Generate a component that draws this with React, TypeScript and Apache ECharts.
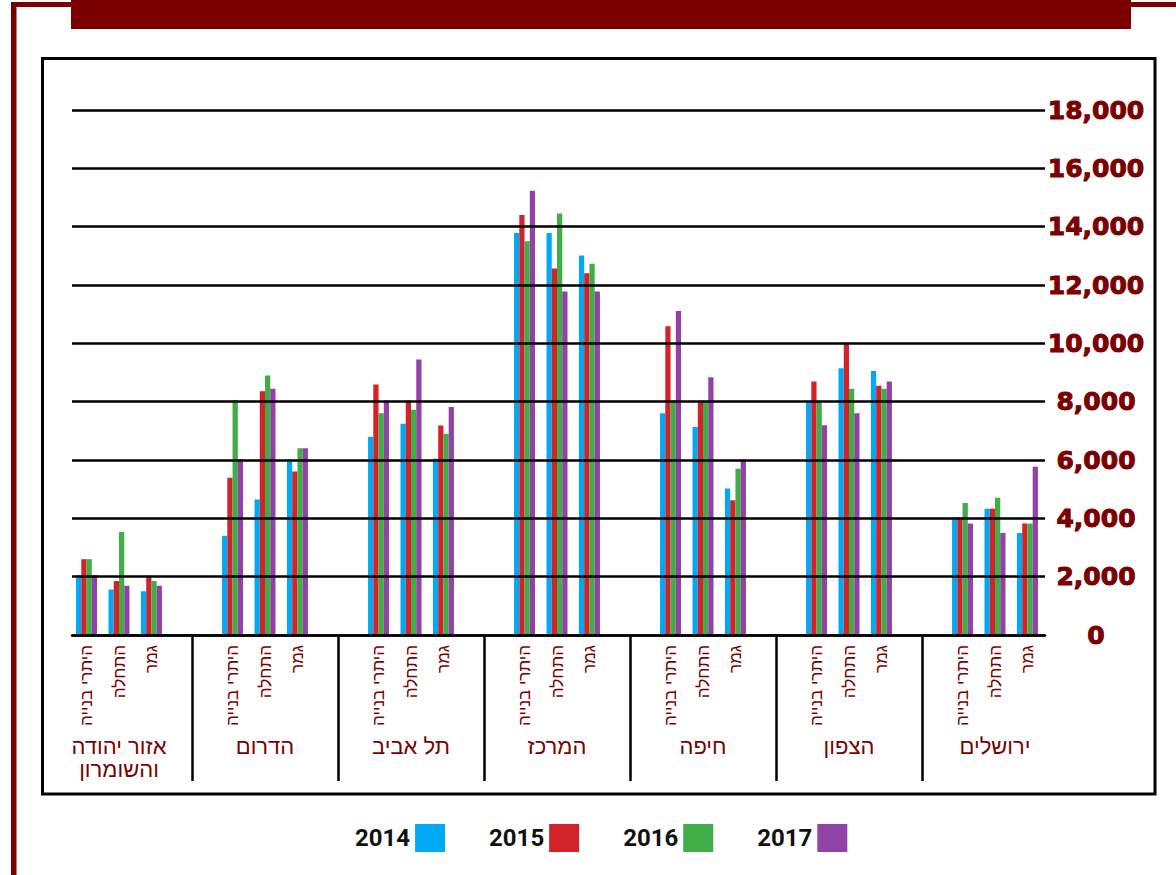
import React, { useEffect, useRef } from "react";
import * as echarts from "echarts";

const regions = ["אזור יהודה\nוהשומרון", "הדרום", "תל אביב", "המרכז", "חיפה", "הצפון", "ירושלים"];
const stages = ["היתרי בנייה", "התחלה", "גמר"];
const years = ["2014", "2015", "2016", "2017"];
const colors = ["#00A9F4", "#D2232A", "#40AD48", "#9242A7"];

// values per region: [היתרי בנייה, התחלה, גמר]
const v2014 = [
  [2050, 1560, 1500], [3400, 4650, 6030], [6800, 7240, 6040], [13780, 13780, 13010],
  [7600, 7130, 5020], [8030, 9150, 9050], [4030, 4330, 3500],
];
const v2015 = [
  [2600, 1850, 2030], [5390, 8360, 5610], [8590, 8040, 7180], [14400, 12570, 12400],
  [10590, 8030, 4620], [8690, 10020, 8550], [4030, 4330, 3820],
];
const v2016 = [
  [2600, 3530, 1850], [8050, 8900, 6400], [7600, 7720, 6900], [13500, 14450, 12730],
  [8050, 8030, 5700], [8030, 8440, 8440], [4530, 4710, 3820],
];
const v2017 = [
  [2050, 1690, 1690], [6030, 8440, 6400], [8040, 9450, 7820], [15230, 11780, 11780],
  [11110, 8840, 6010], [7190, 7600, 8690], [3820, 3500, 5770],
];
const yearValues = [v2014, v2015, v2016, v2017];

const yTicks = { min: 0, max: 18000, interval: 2000 };

// category slots: each region split in 9 slots, stages on slots 2, 4, 6
const SLOTS = 9;
const STAGE_SLOTS = [2, 4, 6];

const DARK_RED = "#7B0000";

export default function App() {
  const ref = useRef<HTMLDivElement>(null);

  useEffect(() => {
    document.body.style.margin = "0";
    if (!ref.current) return;
    const chart = echarts.init(ref.current, null, { renderer: "svg" });

    const slotLabels: string[] = [];
    regions.forEach(() => {
      for (let s = 0; s < SLOTS; s++) {
        const k = STAGE_SLOTS.indexOf(s);
        slotLabels.push(k >= 0 ? stages[k] : "");
      }
    });

    const seriesData = yearValues.map((vals) => {
      const arr: (number | null)[] = [];
      vals.forEach((reg) => {
        for (let s = 0; s < SLOTS; s++) {
          const k = STAGE_SLOTS.indexOf(s);
          arr.push(k >= 0 ? reg[k] : null);
        }
      });
      return arr;
    });

    const option: any = {
      animation: false,
      backgroundColor: "#ffffff",
      color: colors,
      graphic: [
        { type: "rect", shape: { x: 11, y: 2, width: 1165, height: 5 }, style: { fill: DARK_RED } },
        { type: "rect", shape: { x: 11, y: 2, width: 5.5, height: 873 }, style: { fill: DARK_RED } },
        { type: "rect", shape: { x: 71, y: 0, width: 1060, height: 29 }, style: { fill: DARK_RED } },
        {
          type: "rect",
          shape: { x: 42.5, y: 58.5, width: 1112.5, height: 735.5 },
          style: { fill: "none", stroke: "#000", lineWidth: 3 },
        },
      ],
      legend: {
        data: years,
        left: 350,
        top: 819,
        align: "right",
        icon: "rect",
        itemWidth: 30,
        itemHeight: 28,
        itemGap: 44,
        selectedMode: false,
        textStyle: { fontFamily: "Roboto", fontWeight: "bold", fontSize: 24, color: "#111" },
      },
      grid: [
        { left: 46, right: 108, top: 110, bottom: 240 },
        { left: 72, right: 131, top: 110, bottom: 240 },
        { left: 46, right: 108, top: 635, bottom: 94 },
      ],
      xAxis: [
        {
          type: "category",
          gridIndex: 0,
          data: slotLabels,
          axisLine: { show: false },
          axisTick: { show: false },
          axisLabel: {
            interval: 0,
            rotate: 90,
            margin: 10,
            color: DARK_RED,
            fontFamily: "Liberation Sans",
            fontSize: 17,
          },
        },
        {
          type: "category",
          gridIndex: 1,
          data: [""],
          z: 3,
          axisLine: { show: true, lineStyle: { color: "#000", width: 2.5 } },
          axisTick: { show: false },
          axisLabel: { show: false },
        },
        {
          type: "category",
          gridIndex: 2,
          position: "top",
          data: regions,
          axisLine: { show: false },
          axisTick: { show: false },
          splitLine: {
            show: true,
            showMinLine: false,
            showMaxLine: false,
            lineStyle: { color: "#000", width: 2.5 },
          },
          axisLabel: {
            inside: true,
            interval: 0,
            margin: 100,
            verticalAlign: "top",
            color: DARK_RED,
            fontFamily: "Liberation Sans",
            fontSize: 22,
            lineHeight: 23,
          },
        },
      ],
      yAxis: [
        { type: "value", gridIndex: 0, ...yTicks, show: false, splitLine: { show: false } },
        {
          type: "value",
          gridIndex: 1,
          position: "right",
          ...yTicks,
          z: 3,
          axisLine: { show: false },
          axisTick: { show: false },
          splitLine: { show: true, lineStyle: { color: "#000", width: 2.5 } },
          axisLabel: {
            color: DARK_RED,
            fontFamily: "DejaVu Sans",
            fontWeight: "bold",
            fontSize: 25,
            textBorderColor: DARK_RED,
            textBorderWidth: 1,
            align: "center",
            margin: 51,
            formatter: (v: number) => v.toLocaleString("en-US"),
          },
        },
        { type: "value", gridIndex: 2, show: false },
      ],
      series: years.map((y, i) => ({
        name: y,
        type: "bar",
        xAxisIndex: 0,
        yAxisIndex: 0,
        data: seriesData[i],
        barWidth: 5.25,
        barGap: "0%",
        itemStyle: { color: colors[i] },
      })),
    };

    chart.setOption(option);
    return () => chart.dispose();
  }, []);

  return <div ref={ref} style={{ width: 1176, height: 875 }} />;
}
